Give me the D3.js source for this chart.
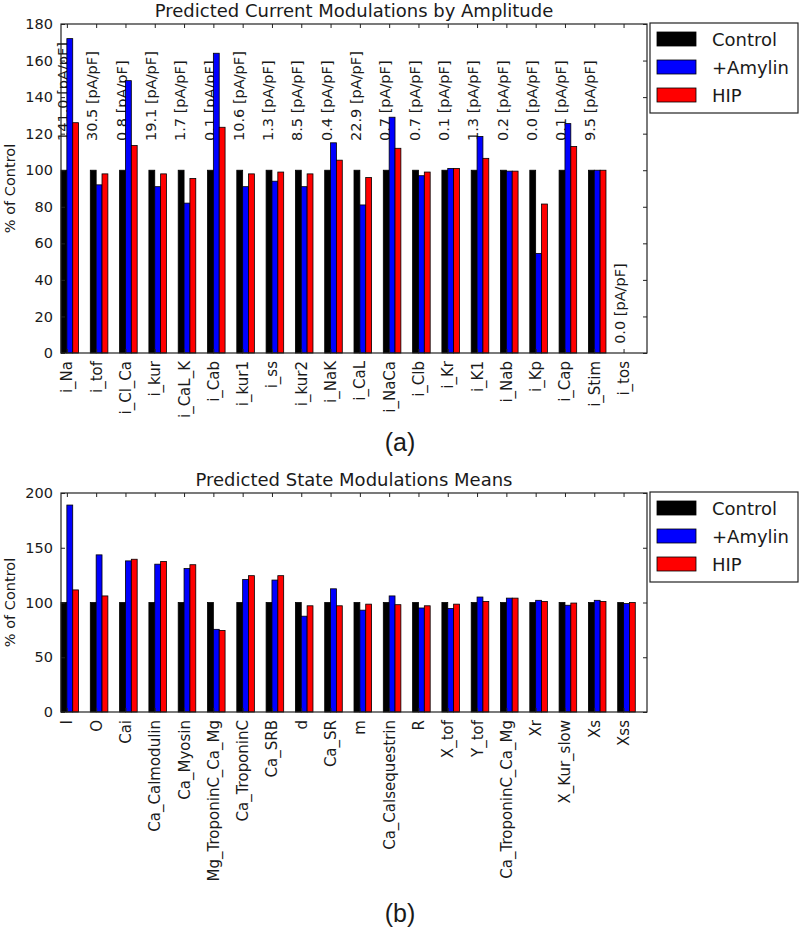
<!DOCTYPE html>
<html>
<head>
<meta charset="utf-8">
<script src="https://cdn.jsdelivr.net/npm/d3@7/dist/d3.min.js"></script>
<style>
  html, body { margin: 0; padding: 0; background: #fff; }
  svg text { font-family: "DejaVu Sans", sans-serif; fill: #1a1a1a; }
</style>
</head>
<body>
<svg id="chart" width="800" height="929"></svg>
<script>
// ---------- Data ----------
const seriesNames = ["Control", "+Amylin", "HIP"];
const seriesColors = ["#000000", "#0000ff", "#ff0000"];

const currentCats = ["i_Na","i_tof","i_Cl_Ca","i_kur","i_CaL_K","i_Cab","i_kur1","i_ss","i_kur2","i_NaK","i_CaL","i_NaCa","i_Clb","i_Kr","i_K1","i_Nab","i_Kp","i_Cap","i_Stim","i_tos"];
const currentControl = [100,100,100,100,100,100,100,100,100,100,100,100,100,100,100,100,100,100,100,0];
const currentAmylin  = [172,92,149,91,82,164,91,94,91,115,81,129,97,101,118.5,99.5,54.5,125.5,100,0];
const currentHIP     = [126,98,113.5,98,95.5,123.5,98,99,98,105.5,96,112,99,101,106.5,99.5,81.5,113,100,0];
const currentAmps    = ["141.0","30.5","0.8","19.1","1.7","0.1","10.6","1.3","8.5","0.4","22.9","0.7","0.7","0.1","1.3","0.2","0.0","0.1","9.5","0.0"];
const currentTicks   = [0,20,40,60,80,100,120,140,160,180];

const stateCats = ["I","O","Cai","Ca_Calmodulin","Ca_Myosin","Mg_TroponinC_Ca_Mg","Ca_TroponinC","Ca_SRB","d","Ca_SR","m","Ca_Calsequestrin","R","X_tof","Y_tof","Ca_TroponinC_Ca_Mg","Xr","X_Kur_slow","Xs","Xss"];
const stateControl = [100,100,100,100,100,100,100,100,100,100,100,100,100,100,100,100,100,100,100,100];
const stateAmylin  = [189,143.5,138,135,131,75.5,121,120.5,87.5,112.5,93,106,95,94.5,105,104,102,97.5,102,99];
const stateHIP     = [111.5,106,139.5,137.5,134.5,74.5,124.5,124.5,97,97,98.5,98,97,98.5,101,104,101,99.5,101,100];
const stateTicks   = [0,50,100,150,200];

// ---------- Layout ----------
const svg = d3.select("#chart");
const L = 61, R = 647;
const barW = 0.2;

function panel(opts) {
  const { top, bottom, cats, series, yMax, ticks, title, annot } = opts;
  const g = svg.append("g");
  const x = d3.scaleLinear().domain([0, cats.length]).range([L, R]);
  const y = d3.scaleLinear().domain([0, yMax]).range([bottom, top]);

  // annotations (drawn under bars)
  if (annot) {
    g.selectAll("text.annot").data(annot).enter().append("text")
      .attr("class", "annot")
      .attr("transform", (d, i) => {
        const yv = opts.control[i] > 0 ? 116 : 5;
        return `translate(${x(i + 0.07)},${y(yv)}) rotate(-90)`;
      })
      .attr("text-anchor", "start")
      .attr("dominant-baseline", "central")
      .style("font-size", "14.5px")
      .text(d => d + " [pA/pF]");
  }

  // bars
  series.forEach((vals, k) => {
    g.selectAll(null).data(vals).enter().append("rect")
      .attr("x", (d, i) => x(i + k * barW))
      .attr("width", x(barW) - x(0))
      .attr("y", d => y(d))
      .attr("height", d => y(0) - y(d))
      .attr("fill", seriesColors[k])
      .attr("stroke", "#000")
      .attr("stroke-width", 0.8);
  });

  // frame
  g.append("rect").attr("x", L).attr("y", top).attr("width", R - L).attr("height", bottom - top)
    .attr("fill", "none").attr("stroke", "#222").attr("stroke-width", 1.2);

  // y axis (left, inward ticks)
  const yAxisL = d3.axisLeft(y).tickValues(ticks).tickSizeInner(-4).tickSizeOuter(0).tickPadding(8);
  const ga = g.append("g").attr("transform", `translate(${L},0)`).call(yAxisL);
  ga.select(".domain").remove();
  ga.selectAll("line").attr("stroke", "#222");
  ga.selectAll("text").style("font-size", "14.5px").attr("fill", "#1a1a1a").style("font-family", "DejaVu Sans");

  // right inward ticks
  const yAxisR = d3.axisRight(y).tickValues(ticks).tickSizeInner(-4).tickSizeOuter(0).tickFormat("");
  const gr = g.append("g").attr("transform", `translate(${R},0)`).call(yAxisR);
  gr.select(".domain").remove();
  gr.selectAll("line").attr("stroke", "#222");

  // x axis bottom
  const tickPos = cats.map((c, i) => i + barW);
  const xAxisB = d3.axisBottom(x).tickValues(tickPos).tickSizeInner(-4).tickSizeOuter(0)
    .tickFormat((d, i) => cats[i]);
  const gb = g.append("g").attr("transform", `translate(0,${bottom})`).call(xAxisB);
  gb.select(".domain").remove();
  gb.selectAll("line").attr("stroke", "#222");
  gb.selectAll("text")
    .style("font-size", "15px").attr("fill", "#1a1a1a").style("font-family", "DejaVu Sans")
    .attr("y", 0).attr("dy", null)
    .attr("transform", "translate(0,8) rotate(-90)")
    .attr("text-anchor", "end")
    .attr("dominant-baseline", "central");

  // x axis top inward ticks
  const xAxisT = d3.axisTop(x).tickValues(tickPos).tickSizeInner(-4).tickSizeOuter(0).tickFormat("");
  const gt = g.append("g").attr("transform", `translate(0,${top})`).call(xAxisT);
  gt.select(".domain").remove();
  gt.selectAll("line").attr("stroke", "#222");

  // title
  g.append("text").attr("x", (L + R) / 2).attr("y", top - 7)
    .attr("text-anchor", "middle").style("font-size", "18px").text(title);

  // y label
  g.append("text")
    .attr("transform", `translate(10,${(top + bottom) / 2}) rotate(-90)`)
    .attr("text-anchor", "middle").attr("dominant-baseline", "central")
    .style("font-size", "14.5px").text("% of Control");

  // legend
  const lg = g.append("g").attr("transform", `translate(650,${top - 1})`);
  lg.append("rect").attr("x", 0).attr("y", 0).attr("width", 148).attr("height", 90)
    .attr("fill", "#fff").attr("stroke", "#222").attr("stroke-width", 1.2);
  seriesNames.forEach((n, k) => {
    const cy = 16 + k * 28;
    lg.append("rect").attr("x", 7).attr("y", cy - 7).attr("width", 39).attr("height", 14)
      .attr("fill", seriesColors[k]).attr("stroke", "#000").attr("stroke-width", 0.8);
    lg.append("text").attr("x", 62).attr("y", cy).attr("dominant-baseline", "central")
      .style("font-size", "18px").text(n);
  });
}

panel({
  top: 24, bottom: 353, cats: currentCats,
  series: [currentControl, currentAmylin, currentHIP], control: currentControl,
  yMax: 180, ticks: currentTicks, title: "Predicted Current Modulations by Amplitude",
  annot: currentAmps
});

panel({
  top: 493, bottom: 712, cats: stateCats,
  series: [stateControl, stateAmylin, stateHIP], control: stateControl,
  yMax: 200, ticks: stateTicks, title: "Predicted State Modulations Means",
  annot: null
});

// panel labels
svg.append("text").attr("x", 400).attr("y", 451).attr("text-anchor", "middle")
  .style("font-family", "Liberation Sans, Arial, sans-serif").style("font-size", "25px").text("(a)");
svg.append("text").attr("x", 400).attr("y", 922).attr("text-anchor", "middle")
  .style("font-family", "Liberation Sans, Arial, sans-serif").style("font-size", "25px").text("(b)");
</script>
</body>
</html>
